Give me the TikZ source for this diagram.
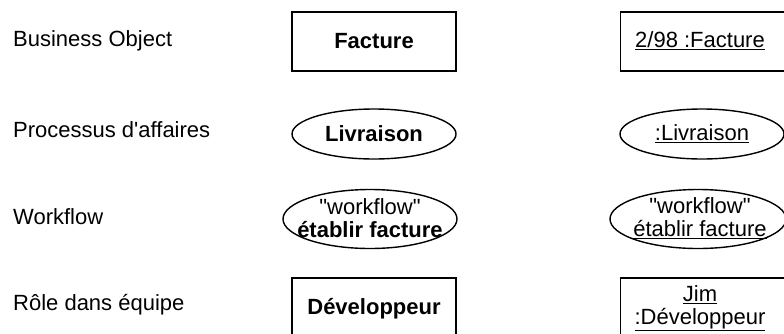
\documentclass[tikz,border=0pt]{standalone}
\usepackage{fontspec}
\setmainfont{Liberation Sans}[Ligatures=TeXOff]
\usetikzlibrary{shapes.geometric}
\begin{document}
\begin{tikzpicture}[x=1pt,y=-1pt,
  lbl/.style={anchor=west,inner sep=0pt,font=\fontsize{22}{25}\selectfont},
  obj/.style={draw,line width=1.4pt,font=\fontsize{22}{25}\selectfont,inner sep=0pt},
  rectobj/.style={obj,rectangle,minimum width=164pt,minimum height=59pt},
  ellobj/.style={obj,ellipse},
  txt/.style={font=\fontsize{22}{23}\selectfont,align=center,inner sep=0pt}]
\useasboundingbox (0,0) rectangle (784,333);
\node[lbl] (l1) at (13,41) {Business Object};
\node[lbl] (l2) at (13,130) {Processus d'affaires};
\node[lbl] (l3) at (13,217) {Workflow};
\node[lbl] (l4) at (13,305) {Rôle dans équipe};
% column 1
\node[rectobj] (facture) at (374,41.5) {\textbf{Facture}};
\node[ellobj,minimum width=164pt,minimum height=50pt] (livraison) at (374,134) {\textbf{Livraison}};
\node[ellobj,minimum width=174pt,minimum height=59pt] (wf) at (370,219) {};
\node[txt] (wft) at (370,218) {"workflow"\\\textbf{établir facture}};
\node[rectobj,minimum height=62pt] (dev) at (374,309) {\textbf{Développeur}};
% column 2
\node[rectobj,minimum width=170pt,anchor=west] (facture2) at (620,41.5) {};
\node[txt] (facture2t) at (700,41) {\underline{2/98 :Facture}};
\node[ellobj,minimum width=164pt,minimum height=50pt] (livraison2) at (702,134) {\underline{:Livraison}};
\node[ellobj,minimum width=176pt,minimum height=59pt] (wf2) at (698,219) {};
\node[txt] (wft2) at (700,218) {"workflow"\\\underline{établir facture}};
\node[rectobj,minimum width=170pt,minimum height=62pt,anchor=west] (dev2) at (620,309) {};
\node[txt] (dev2t) at (700,308) {\underline{Jim}\\\underline{:Développeur}};
\end{tikzpicture}
\end{document}
